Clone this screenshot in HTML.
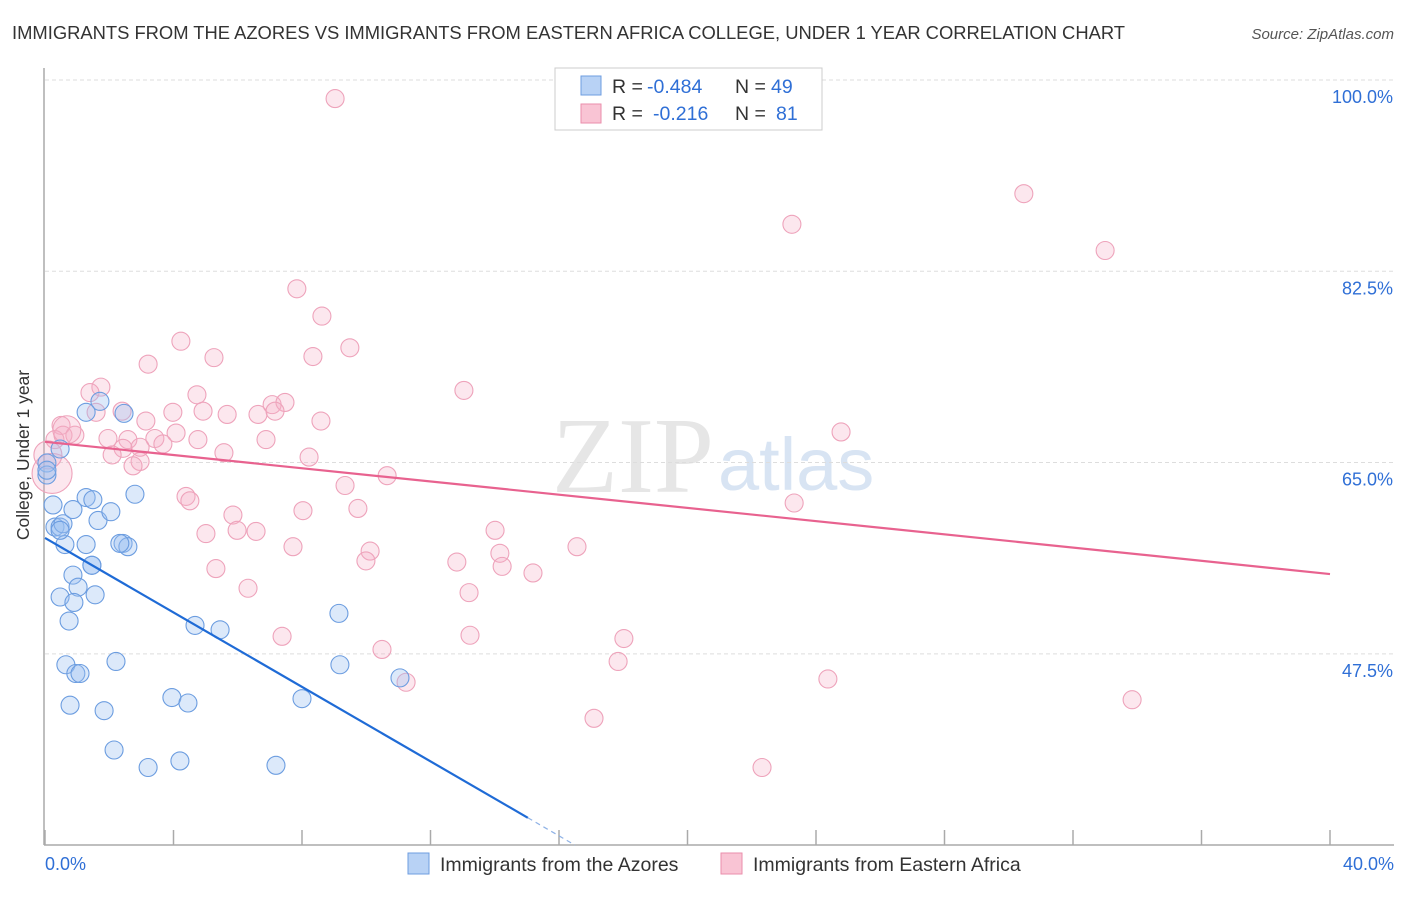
<!DOCTYPE html>
<html><head><meta charset="utf-8"><style>
body{margin:0;background:#fff;font-family:"Liberation Sans",sans-serif}
</style></head><body>
<svg width="1406" height="892" xmlns="http://www.w3.org/2000/svg">
<text x="12" y="39" font-size="18.4" fill="#333" textLength="1113">IMMIGRANTS FROM THE AZORES VS IMMIGRANTS FROM EASTERN AFRICA COLLEGE, UNDER 1 YEAR CORRELATION CHART</text>
<text x="1394" y="39" font-size="15" fill="#555" text-anchor="end" font-style="italic">Source: ZipAtlas.com</text>
<text x="714" y="492" font-size="108" fill="#e6e6e6" text-anchor="end" font-family="Liberation Serif,serif">ZIP</text>
<text x="718" y="490" font-size="74" fill="#d8e4f3">atlas</text>
<g id="grid"></g>
<g id="pts"></g>
<g id="lines"></g>
<g>
<rect x="555" y="68" width="267" height="62" fill="#fff" stroke="#ccc"/>
<rect x="581" y="76" width="20" height="19" fill="#b8d2f5" stroke="#6e9de0"/>
<rect x="581" y="104" width="20" height="19" fill="#f9c4d4" stroke="#ea8eab"/>
<text y="93" font-size="19.5" fill="#333"><tspan x="612">R =</tspan><tspan x="647" fill="#2f6fd6">-0.484</tspan><tspan x="735">N =</tspan><tspan x="771" fill="#2f6fd6">49</tspan></text>
<text y="120" font-size="19.5" fill="#333"><tspan x="612">R =</tspan><tspan x="653" fill="#2f6fd6">-0.216</tspan><tspan x="735">N =</tspan><tspan x="776" fill="#2f6fd6">81</tspan></text>
</g>
<text x="29" y="455" font-size="17.5" fill="#333" text-anchor="middle" transform="rotate(-90 29 455)">College, Under 1 year</text>
<text x="45" y="870" font-size="18" fill="#2f6fd6">0.0%</text>
<text x="1394" y="870" font-size="18" fill="#2f6fd6" text-anchor="end">40.0%</text>
<g>
<rect x="408" y="853" width="21" height="21" fill="#b8d2f5" stroke="#6e9de0"/>
<text x="440" y="871" font-size="19.5" fill="#333">Immigrants from the Azores</text>
<rect x="721" y="853" width="21" height="21" fill="#f9c4d4" stroke="#ea8eab"/>
<text x="753" y="871" font-size="19.5" fill="#333">Immigrants from Eastern Africa</text>
</g>
</svg>
<script>
const yTicks=[100,82.5,65,47.5];
const xTicks=[0,4,8,12,16,20,24,28,32,36,40];
const blueX=[0.06,0.06,0.47,0.25,0.31,0.47,0.56,0.62,0.87,1.28,1.28,1.49,1.65,2.05,2.43,2.58,2.80,0.87,1.03,1.46,1.56,0.47,0.90,0.75,0.65,0.96,1.09,2.21,0.78,1.84,3.95,4.45,4.67,5.45,8.0,2.15,3.21,4.20,7.19,9.15,9.18,11.05,2.46,1.71,1.28,0.06,0.47,2.33,1.46];
const blueY=[64.96,63.86,66.24,61.12,59.1,59.1,59.4,57.5,60.7,61.8,57.5,61.6,59.7,60.5,57.6,57.3,62.1,54.7,53.6,55.6,52.9,52.7,52.2,50.5,46.5,45.7,45.7,46.8,42.8,42.3,43.5,43.0,50.1,49.7,43.4,38.7,37.1,37.7,37.3,51.2,46.5,45.3,69.5,70.6,69.6,64.3,58.8,57.6,55.6];
const pinkX=[9.03,30.47,23.25,33.0,7.84,8.62,4.23,9.49,3.21,5.26,8.34,1.74,1.40,4.73,13.04,7.07,7.47,2.40,1.59,3.98,4.92,5.67,6.63,7.16,8.59,3.14,0.50,0.56,0.93,1.96,2.58,3.42,4.08,3.67,6.88,2.43,2.09,5.57,8.22,2.96,2.74,24.78,10.65,9.34,4.39,4.51,5.85,8.03,9.74,23.32,14.01,5.01,5.98,6.57,7.72,10.12,16.56,14.16,9.99,12.82,14.23,15.19,5.32,6.32,13.20,7.38,13.23,18.02,10.49,17.84,24.37,11.24,33.84,17.09,22.32,0.31,0.22,0.68,2.96,4.76,0.09];
const pinkY=[98.3,89.6,86.8,84.4,80.9,78.4,76.1,75.5,74.0,74.6,74.7,71.9,71.4,71.2,71.6,70.3,70.5,69.7,69.6,69.6,69.7,69.4,69.4,69.7,68.8,68.8,68.4,67.5,67.5,67.2,67.1,67.2,67.7,66.7,67.1,66.3,65.7,65.9,65.5,65.1,64.7,67.8,63.8,62.9,61.9,61.5,60.2,60.6,60.8,61.3,58.8,58.5,58.8,58.7,57.3,56.9,57.3,56.7,56.0,55.9,55.5,54.9,55.3,53.5,53.1,49.1,49.2,48.9,47.9,46.8,45.2,44.9,43.3,41.6,37.1,67.1,64.0,68.0,66.4,67.1,65.7];
const blueTrend=[58.1,32.5];
const blueTrendEnd=15.03;
const pinkTrend=[66.9,54.8];
const NS="http://www.w3.org/2000/svg";
const X=v=>45+v*32.125, Y=v=>80+(100-v)*10.93;
function mk(t,a,p){const e=document.createElementNS(NS,t);for(const k in a)e.setAttribute(k,a[k]);p.appendChild(e);return e;}
const g=document.getElementById('grid');
const ax=mk('line',{x1:44,y1:68,x2:44,y2:845,stroke:'#aaa','stroke-width':1.5},g);


const bx=mk('line',{x1:44,y1:845,x2:1394,y2:845,stroke:'#aaa','stroke-width':1.5},g);


yTicks.forEach(v=>{
 const l=mk('line',{x1:45,y1:Y(v),x2:1394,y2:Y(v),stroke:'#ddd','stroke-dasharray':'4,3'},g);
 
 
 const t=mk('text',{x:1393,y:Y(v)+23,'font-size':18,fill:'#2f6fd6','text-anchor':'end'},g);t.textContent=v.toFixed(1)+'%';
 
 
});
xTicks.forEach(v=>{
 const l=mk('line',{x1:X(v),y1:830,x2:X(v),y2:845,stroke:'#aaa','stroke-width':1.5},g);
 
 
});
const p=document.getElementById('pts');
pinkX.forEach((x,i)=>{
 const c=mk('circle',{cx:X(x),cy:Y(pinkY[i]),r:(i>=76&&i!=78&&i!=79)?(i==76?20:14):9,fill:'rgba(246,175,198,0.3)',stroke:'#eea3bb','stroke-width':1.1},p);
 
 
});
blueX.forEach((x,i)=>{
 const c=mk('circle',{cx:X(x),cy:Y(blueY[i]),r:9,fill:'rgba(155,193,240,0.35)',stroke:'#6c9de0','stroke-width':1.1},p);
 
 
});
const L=document.getElementById('lines');
const bs=(blueTrend[1]-blueTrend[0])/blueTrendEnd;
const b1=mk('line',{x1:X(0),y1:Y(blueTrend[0]),x2:X(blueTrendEnd),y2:Y(blueTrend[1]),stroke:'#1f6bd6','stroke-width':2.2},L);


const xe=(30-blueTrend[0])/bs;
const b2=mk('line',{x1:X(blueTrendEnd),y1:Y(blueTrend[1]),x2:X(xe),y2:Y(30),stroke:'#8fb2e6','stroke-width':1.2,'stroke-dasharray':'5,4'},L);


const pl=mk('line',{x1:X(0),y1:Y(pinkTrend[0]),x2:X(40),y2:Y(pinkTrend[1]),stroke:'#e8628f','stroke-width':2.2},L);


</script>
</body></html>
